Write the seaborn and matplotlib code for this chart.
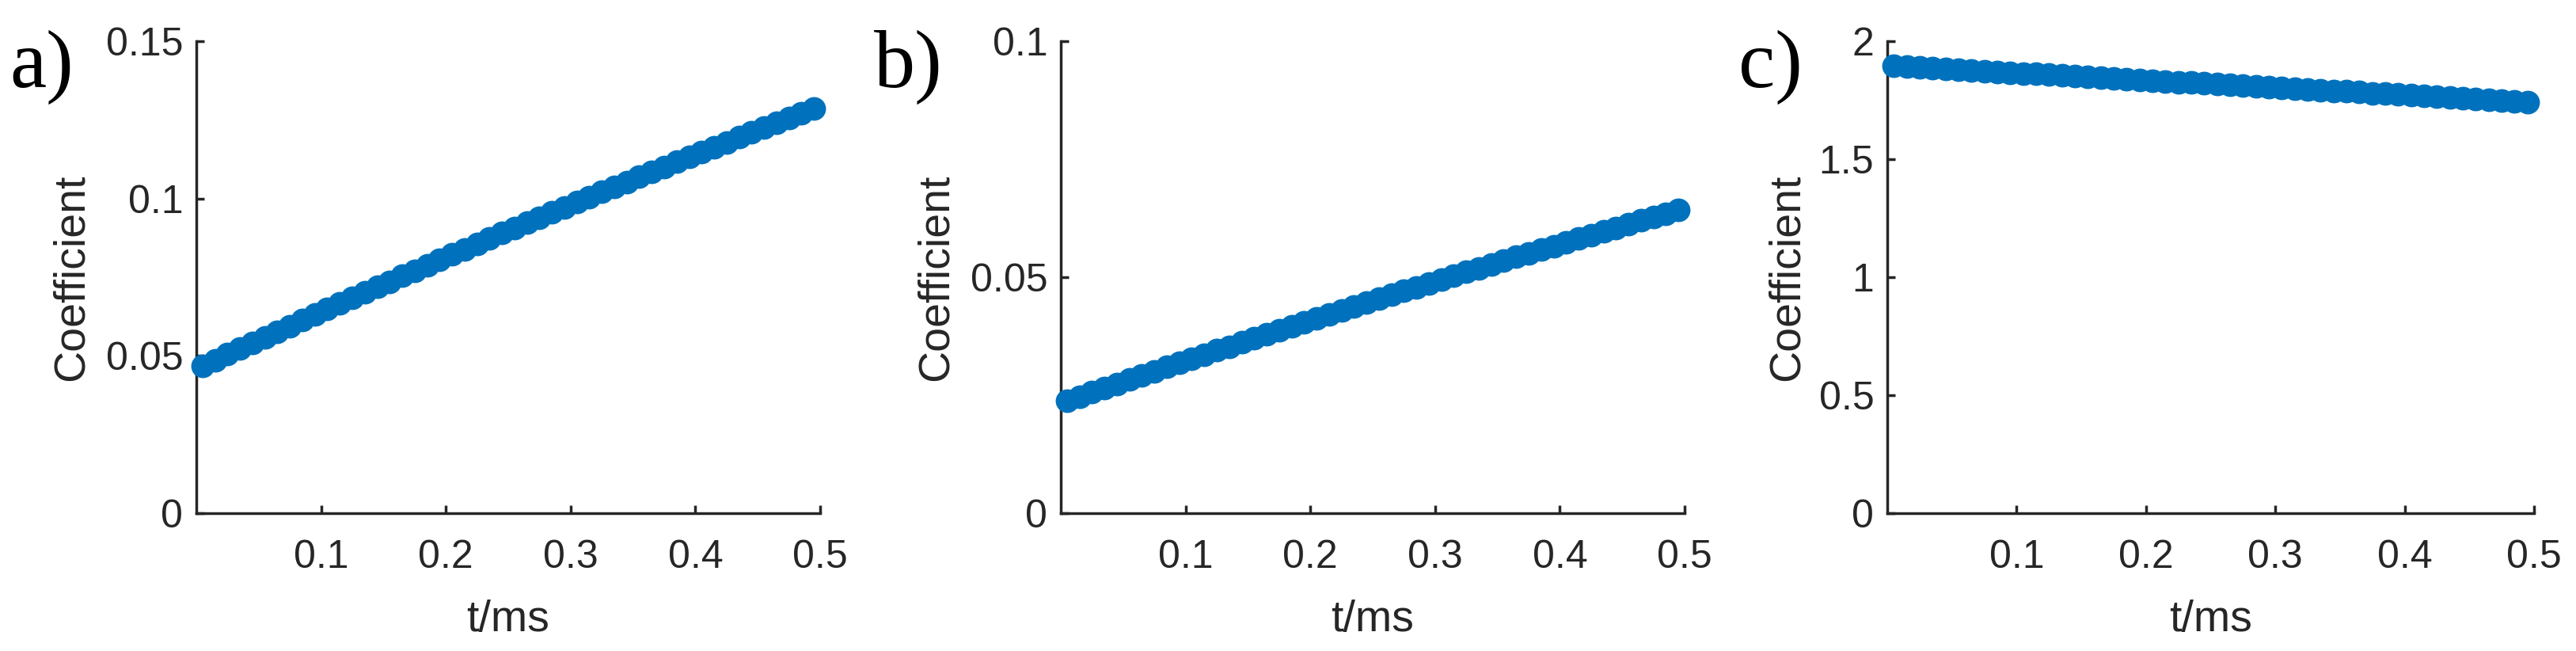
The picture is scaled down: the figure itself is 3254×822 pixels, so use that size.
import matplotlib
matplotlib.use("Agg")
import matplotlib.pyplot as plt
import seaborn as sns
import pandas as pd

# ---------------- data ----------------
t_ms = [0.005, 0.015, 0.025, 0.035, 0.045, 0.055, 0.065, 0.075, 0.085, 0.095,
        0.105, 0.115, 0.125, 0.135, 0.145, 0.155, 0.165, 0.175, 0.185, 0.195,
        0.205, 0.215, 0.225, 0.235, 0.245, 0.255, 0.265, 0.275, 0.285, 0.295,
        0.305, 0.315, 0.325, 0.335, 0.345, 0.355, 0.365, 0.375, 0.385, 0.395,
        0.405, 0.415, 0.425, 0.435, 0.445, 0.455, 0.465, 0.475, 0.485, 0.495]

coef_a = [0.0468, 0.0486, 0.0505, 0.0523, 0.0541, 0.0559, 0.0577, 0.0595, 0.0613, 0.0631,
          0.0649, 0.0666, 0.0684, 0.0701, 0.0719, 0.0736, 0.0754, 0.0771, 0.0788, 0.0805,
          0.0822, 0.0839, 0.0856, 0.0873, 0.0890, 0.0906, 0.0923, 0.0940, 0.0956, 0.0972,
          0.0989, 0.1005, 0.1021, 0.1037, 0.1053, 0.1069, 0.1085, 0.1101, 0.1117, 0.1133,
          0.1148, 0.1164, 0.1179, 0.1195, 0.1210, 0.1226, 0.1241, 0.1256, 0.1271, 0.1286]

coef_b = [0.0238, 0.0247, 0.0256, 0.0265, 0.0274, 0.0283, 0.0292, 0.0301, 0.0310, 0.0318,
          0.0327, 0.0336, 0.0345, 0.0353, 0.0362, 0.0370, 0.0379, 0.0388, 0.0396, 0.0404,
          0.0413, 0.0421, 0.0430, 0.0438, 0.0446, 0.0454, 0.0463, 0.0471, 0.0479, 0.0487,
          0.0495, 0.0503, 0.0511, 0.0519, 0.0527, 0.0535, 0.0543, 0.0551, 0.0559, 0.0566,
          0.0574, 0.0582, 0.0589, 0.0597, 0.0604, 0.0612, 0.0620, 0.0627, 0.0635, 0.0642]

coef_c = [1.895, 1.892, 1.889, 1.886, 1.883, 1.880, 1.877, 1.873, 1.870, 1.867,
          1.864, 1.861, 1.858, 1.855, 1.852, 1.849, 1.846, 1.842, 1.839, 1.836,
          1.833, 1.830, 1.827, 1.824, 1.821, 1.818, 1.815, 1.811, 1.808, 1.805,
          1.802, 1.799, 1.796, 1.793, 1.790, 1.787, 1.784, 1.780, 1.777, 1.774,
          1.771, 1.768, 1.765, 1.762, 1.759, 1.756, 1.753, 1.749, 1.746, 1.743]

panel_letters = ["a)", "b)", "c)"]
x_ticks = [0.1, 0.2, 0.3, 0.4, 0.5]
x_ticklabels = ["0.1", "0.2", "0.3", "0.4", "0.5"]
y_ticks_a = [0, 0.05, 0.1, 0.15]
y_ticklabels_a = ["0", "0.05", "0.1", "0.15"]
y_ticks_b = [0, 0.05, 0.1]
y_ticklabels_b = ["0", "0.05", "0.1"]
y_ticks_c = [0, 0.5, 1, 1.5, 2]
y_ticklabels_c = ["0", "0.5", "1", "1.5", "2"]
x_label = "t/ms"
y_label = "Coefficient"

# ---------------- style ----------------
sns.set_style("ticks")
plt.rcParams["font.family"] = ["Liberation Sans", "DejaVu Sans"]

W, H = 3255, 822
fig = plt.figure(figsize=(W / 100, H / 100), dpi=100)
fig.patch.set_facecolor("white")

INK = "#262626"
BLUE = "#0072BD"

bottom_px, top_px = 648, 52
panels = [
    dict(left=248, right=1036, y=coef_a, ylim=(0, 0.15), yt=y_ticks_a, ytl=y_ticklabels_a,
         letter_x=12, ylab_right=105),
    dict(left=1340, right=2128, y=coef_b, ylim=(0, 0.1), yt=y_ticks_b, ytl=y_ticklabels_b,
         letter_x=1104, ylab_right=1197),
    dict(left=2384, right=3201, y=coef_c, ylim=(0, 2), yt=y_ticks_c, ytl=y_ticklabels_c,
         letter_x=2196, ylab_right=2272),
]

for p, letter in zip(panels, panel_letters):
    ax = fig.add_axes([p["left"] / W, 1 - bottom_px / H,
                       (p["right"] - p["left"]) / W, (bottom_px - top_px) / H])
    df = pd.DataFrame({"t": t_ms, "c": p["y"]})
    sns.lineplot(data=df, x="t", y="c", ax=ax, color=BLUE, linewidth=3,
                 marker="o", markersize=20, markeredgewidth=1.5,
                 markeredgecolor=BLUE, markerfacecolor=BLUE,
                 clip_on=False, zorder=5)
    ax.set_xlim(0, 0.5)
    ax.set_ylim(*p["ylim"])
    ax.set_xticks(x_ticks)
    ax.set_xticklabels(x_ticklabels)
    ax.set_yticks(p["yt"])
    ax.set_yticklabels(p["ytl"])
    for side in ["top", "right"]:
        ax.spines[side].set_visible(False)
    for side in ["left", "bottom"]:
        ax.spines[side].set_linewidth(2.5)
        ax.spines[side].set_color(INK)
        ax.spines[side].set_zorder(2)
    ax.tick_params(axis="both", direction="in", length=7, width=2.5, color=INK,
                   labelcolor=INK, labelsize=36)
    ax.tick_params(axis="x", pad=24)
    ax.tick_params(axis="y", pad=12)
    ax.set_xlabel(x_label, fontsize=40, color=INK)
    ax.set_ylabel(y_label, fontsize=40, color=INK)
    axw = p["right"] - p["left"]
    ax.xaxis.set_label_coords(0.5, -(757 - bottom_px) / (bottom_px - top_px))
    ax.yaxis.set_label_coords((p["ylab_right"] + 12 - p["left"]) / axw, 0.5)
    fig.text(p["letter_x"] / W, 1 - 110 / H, letter, fontsize=75,
             family=["Liberation Serif", "DejaVu Serif"], color="black",
             ha="left", va="baseline")

fig.savefig("out.png", dpi=100, facecolor="white")
